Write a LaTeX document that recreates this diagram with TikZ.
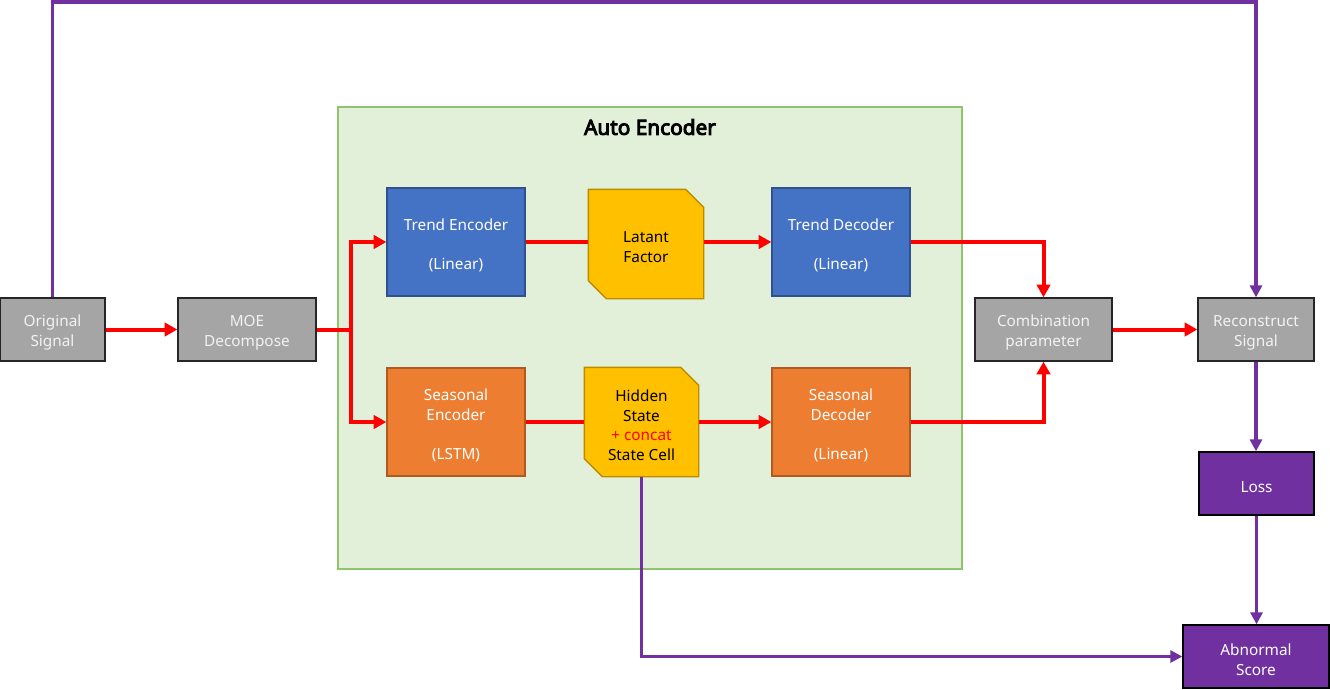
\documentclass[tikz,border=0pt]{standalone}
\usepackage{fontspec}
\setmainfont{Noto Sans}
\newfontfamily\titlefont{Noto Sans}[FakeBold=4.5]
\usetikzlibrary{arrows.meta}
\definecolor{gfill}{HTML}{A5A5A5}
\definecolor{gborder}{HTML}{262626}
\definecolor{bfill}{HTML}{4472C4}
\definecolor{bborder}{HTML}{2F528F}
\definecolor{ofill}{HTML}{ED7D31}
\definecolor{oborder}{HTML}{AE5A21}
\definecolor{yfill}{HTML}{FFC000}
\definecolor{yborder}{HTML}{BC8C00}
\definecolor{pfill}{HTML}{7030A0}
\definecolor{cfill}{HTML}{E2F0D9}
\definecolor{cborder}{HTML}{8FC46C}
\definecolor{lred}{HTML}{FF0000}
\definecolor{lpur}{HTML}{7030A0}
\pgfdeclarelayer{bg}
\pgfsetlayers{bg,main}
\tikzset{
  txt/.style={align=center, inner sep=0pt, yshift=-2.4pt,
    font=\fontsize{11.5}{14.6}\selectfont},
  box/.style={rectangle, inner sep=0pt, line width=1pt},
  graybox/.style={box, fill=gfill, draw=gborder,
    label={[txt, text=white!95!black]center:{#1}}},
  bluebox/.style={box, fill=bfill, draw=bborder,
    label={[txt, text=white]center:{#1}}},
  orangebox/.style={box, fill=ofill, draw=oborder,
    label={[txt, text=white]center:{#1}}},
  purplebox/.style={box, fill=pfill, draw=black,
    label={[txt, text=white]center:{#1}}},
  goldbox/.style={box, label={[txt, text=black]center:{#1}}},
  goldshape/.style={fill=yfill, draw=yborder, line width=1pt},
  redline/.style={draw=lred, line width=3pt},
  redarrow/.style={redline, -{Triangle[length=9.5pt,width=10pt]}},
  purline/.style={draw=lpur, line width=2.3pt},
  purarrow/.style={purline, -{Triangle[length=9pt,width=9pt]}},
}
\begin{document}
\begin{tikzpicture}[x=0.75pt,y=-0.75pt]
\useasboundingbox (0,0) rectangle (1330,689);
% container
\begin{pgfonlayer}{bg}
\path[fill=cfill, draw=cborder, line width=1.2pt] (338,107) rectangle (962,569);
\end{pgfonlayer}
\node[font=\fontsize{15.6}{18}\selectfont\titlefont] (title) at (650,127) {Auto Encoder};

% nodes
\node[graybox={Original\\Signal}, minimum width=105*0.75pt, minimum height=63*0.75pt] (orig) at (52.5,329.5) {};
\node[graybox={MOE\\Decompose}, minimum width=138*0.75pt, minimum height=63*0.75pt] (moe) at (247,329.5) {};
\node[bluebox={Trend Encoder\\[14.6pt](Linear)}, minimum width=138*0.75pt, minimum height=108*0.75pt] (te) at (456,242) {};
\node[bluebox={Trend Decoder\\[14.6pt](Linear)}, minimum width=138*0.75pt, minimum height=108*0.75pt] (td) at (841,242) {};
\node[orangebox={Seasonal\\Encoder\\[14.6pt](LSTM)}, minimum width=138*0.75pt, minimum height=108*0.75pt] (se) at (456,422) {};
\node[orangebox={Seasonal\\Decoder\\[14.6pt](Linear)}, minimum width=138*0.75pt, minimum height=108*0.75pt] (sd) at (841,422) {};
\node[goldbox={Latant\\Factor}, minimum width=114*0.75pt, minimum height=108*0.75pt] (lf) at (646,244) {};
\node[goldbox={Hidden\\State\\\textcolor{lred}{+ concat}\\State Cell}, minimum width=113*0.75pt, minimum height=108*0.75pt] (hs) at (641.5,422) {};
\node[graybox={Combination\\parameter}, minimum width=137*0.75pt, minimum height=63*0.75pt] (comb) at (1043.5,329.5) {};
\node[graybox={Reconstruct\\Signal}, minimum width=116*0.75pt, minimum height=63*0.75pt] (rec) at (1256,329.5) {};
\node[purplebox={Loss}, minimum width=115*0.75pt, minimum height=63*0.75pt] (loss) at (1256.5,483.5) {};
\node[purplebox={Abnormal\\Score}, minimum width=146*0.75pt, minimum height=63*0.75pt] (abn) at (1256,656.5) {};

% snipped-corner shapes
\begin{pgfonlayer}{bg}
\path[goldshape] (lf.north west) -- ([xshift=-18*0.75pt]lf.north east) -- ([yshift=-18*0.75pt]lf.north east)
  -- (lf.south east) -- ([xshift=18*0.75pt]lf.south west) -- ([yshift=18*0.75pt]lf.south west) -- cycle;
\path[goldshape] (hs.north west) -- ([xshift=-18*0.75pt]hs.north east) -- ([yshift=-18*0.75pt]hs.north east)
  -- (hs.south east) -- ([xshift=18*0.75pt]hs.south west) -- ([yshift=18*0.75pt]hs.south west) -- cycle;
\end{pgfonlayer}

% red connectors
\coordinate (split) at (351,329.5);
\draw[redarrow] (orig.east) -- (moe.west);
\draw[redline] (moe.east) -- (split);
\draw[redarrow] (split) |- (te.west);
\draw[redarrow] (split) |- (se.west);
\draw[redline] (te.east) -- (te.east -| lf.west);
\draw[redarrow] (lf.east |- td.west) -- (td.west);
\draw[redline] (se.east) -- (hs.west);
\draw[redarrow] (hs.east) -- (sd.west);
\draw[redarrow] (td.east) -| (comb.north);
\draw[redarrow] (sd.east) -| (comb.south);
\draw[redarrow] (comb.east) -- (rec.west);

% purple connectors
\coordinate (topl) at (52.5,2);
\draw[purarrow] (orig.north) -- (topl) -| (rec.north);
\draw[purarrow] (rec.south) -- (rec.south |- loss.north);
\draw[purarrow] (loss.south) -- (loss.south |- abn.north);
\draw[purarrow] (hs.south) |- (abn.west);
\end{tikzpicture}
\end{document}
